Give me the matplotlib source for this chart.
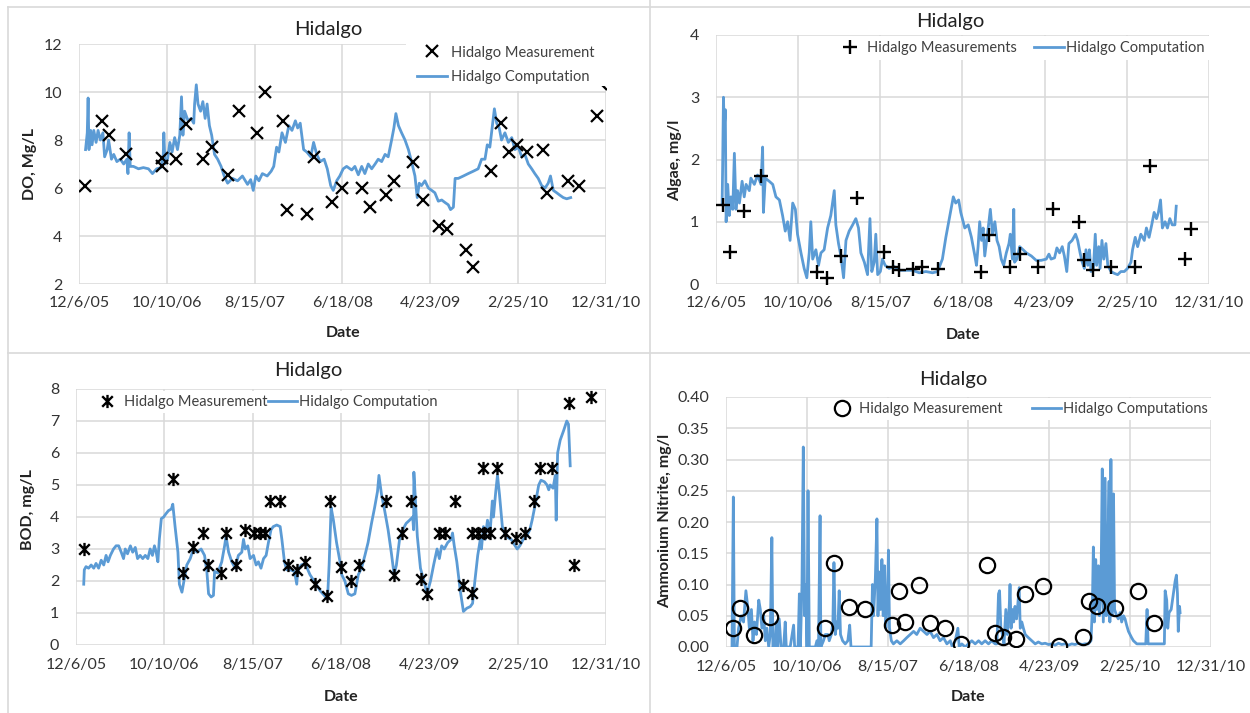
import datetime as dt

import matplotlib
matplotlib.use("Agg")
import matplotlib.pyplot as plt
import matplotlib.dates as mdates
import numpy as np
from matplotlib.lines import Line2D
from matplotlib.patches import Rectangle
from matplotlib.path import Path
from matplotlib.ticker import FormatStrFormatter

plt.rcParams["font.family"] = ["Lato", "DejaVu Sans"]

# ---------------------------------------------------------------- data
# x values are days counted from 6 Dec 2005
START = dt.date(2005, 12, 6)
tick_dates = [dt.date(2005, 12, 6), dt.date(2006, 10, 10), dt.date(2007, 8, 15),
              dt.date(2008, 6, 18), dt.date(2009, 4, 23), dt.date(2010, 2, 25),
              dt.date(2010, 12, 31)]
tick_labels = ["12/6/05", "10/10/06", "8/15/07", "6/18/08", "4/23/09", "2/25/10", "12/31/10"]

# Dissolved oxygen
do_meas_day = [21, 81, 104, 166, 292, 292, 340, 375, 437, 466, 525, 561, 624, 652, 715, 730, 800,
               827, 887, 925, 993, 1022, 1078, 1106, 1174, 1209, 1266, 1294, 1359, 1383, 1447,
               1482, 1511, 1537, 1572, 1631, 1645, 1719, 1756, 1818, 1833]
do_meas_val = [6.1, 8.8, 8.2, 7.4, 7.25, 6.9, 7.2, 8.65, 7.2, 7.7, 6.55, 9.2, 8.3, 10.0, 8.8, 5.1,
               4.9, 7.3, 5.4, 6.0, 6.0, 5.2, 5.7, 6.3, 7.1, 5.5, 4.4, 4.3, 3.4, 2.7, 6.7, 8.7, 7.5,
               7.8, 7.5, 7.6, 5.8, 6.3, 6.1, 9.0, 10.35]
do_comp_day = [23, 29, 32, 35, 41, 46, 52, 60, 67, 75, 84, 90, 99, 104, 114, 122, 133, 145, 157, 168,
               172, 176, 180, 191, 209, 226, 244, 258, 273, 288, 296, 298, 302, 311, 319, 327, 336,
               346, 354, 360, 365, 371, 383, 394, 403, 406, 412, 418, 427, 435, 443, 450, 458, 466,
               476, 487, 499, 510, 522, 539, 557, 574, 592, 603, 612, 621, 632, 644, 661, 675, 684,
               694, 702, 713, 725, 737, 748, 760, 768, 777, 789, 800, 814, 824, 835, 847, 861, 872,
               884, 893, 905, 916,
               928, 940, 958, 969, 981, 993, 1004, 1016, 1028, 1040, 1051, 1063, 1075, 1086, 1098,
               1106, 1113, 1122, 1133, 1145, 1157, 1168, 1180, 1188, 1195, 1203, 1215, 1227, 1239,
               1250, 1262, 1274, 1285, 1297, 1305, 1315, 1321, 1332, 1350, 1367, 1385, 1402, 1414,
               1426, 1434, 1443, 1452, 1459, 1467, 1476, 1484, 1496, 1508, 1520, 1531, 1543, 1555,
               1566, 1578, 1590, 1601, 1613, 1625, 1637, 1648, 1656, 1666, 1678, 1689, 1701, 1713,
               1727]
do_comp_val = [7.6, 8.3, 9.75, 7.6, 8.4, 7.8, 8.4, 7.9, 8.4, 8.0, 8.3, 7.3, 7.6, 8.0, 7.2, 7.4, 7.1,
               7.2, 7.0, 7.2, 6.6, 8.3, 6.9, 6.9, 6.8, 6.85, 6.8, 6.6, 6.8, 6.85, 7.4, 8.3, 7.0, 7.2,
               7.9, 7.5, 8.1, 7.6, 8.2, 9.8, 8.2, 9.2, 8.8, 8.9, 8.7, 9.5, 10.3, 9.5, 9.2, 9.6, 8.9,
               9.5, 8.6, 8.2, 7.4, 7.2, 6.9, 6.5, 6.2, 6.4, 6.3, 6.5, 6.15, 6.35, 5.9, 6.5, 6.3, 6.6,
               6.5, 6.7, 6.9, 7.7, 7.5, 8.3, 7.9, 8.6, 8.4, 8.8, 8.5, 8.7, 7.6, 7.5, 7.3, 7.9, 7.4,
               7.1, 7.2, 6.8, 6.1, 5.9, 6.3, 6.5,
               6.8, 6.9, 6.75, 6.9, 6.55, 6.9, 6.6, 7.0, 6.8, 7.0, 7.2, 7.1, 7.4, 7.3, 8.0, 8.5, 9.1,
               8.6, 8.3, 8.0, 7.6, 7.1, 6.5, 5.6, 6.2, 6.1, 6.3, 6.0, 5.9, 5.8, 5.45, 5.5, 5.4, 5.3,
               5.1, 5.2, 6.4, 6.4, 6.5, 6.6, 6.7, 6.8, 7.2, 7.2, 7.8, 7.7, 8.6, 9.3, 8.7, 8.5, 8.0,
               8.3, 7.9, 8.1, 7.6, 7.7, 7.3, 7.4, 7.0, 6.8, 6.6, 6.4, 6.1, 6.0, 6.2, 6.5, 5.9, 5.8,
               5.7, 5.6, 5.55, 5.6]

# Algae
alg_meas_day = [25, 53, 104, 169, 379, 415, 469, 529, 629, 663, 688, 738, 775, 834, 996, 1025, 1105,
                1140, 1209, 1267, 1362, 1383, 1414, 1483, 1573, 1630, 1760, 1782]
alg_meas_val = [1.27, 0.51, 1.17, 1.74, 0.19, 0.09, 0.45, 1.38, 0.51, 0.27, 0.23, 0.24, 0.27, 0.24,
                0.19, 0.79, 0.28, 0.48, 0.28, 1.2, 0.99, 0.39, 0.22, 0.28, 0.28, 1.9, 0.40, 0.89]
alg_comp_day = [23, 25, 28, 31, 35, 38, 44, 50, 56, 63, 69, 75, 81, 88, 98, 106, 113, 125, 131, 144,
                156, 169, 175, 178, 185, 200, 213, 225, 238, 250, 260, 269, 278, 288, 298, 306, 319,
                331, 341, 350, 356, 363, 375, 385, 394, 406, 419, 431, 444, 450, 460, 469, 479, 488,
                500, 513, 525, 535, 544, 557, 569, 578, 585, 594, 600, 607, 617, 625, 635, 650, 669,
                688, 713, 738, 763, 788, 813, 832, 850, 863, 878, 891, 900, 911, 919,
                934, 947, 959, 972, 978, 984, 990, 997, 1003, 1009, 1022, 1030, 1038, 1047, 1055,
                1063, 1071, 1080, 1090, 1100, 1105, 1113, 1118, 1121, 1130, 1140, 1153, 1165, 1184,
                1202, 1221, 1240, 1250, 1258, 1271, 1280, 1290, 1300, 1308, 1317, 1325, 1337, 1350,
                1358, 1367, 1375, 1383, 1389, 1396, 1402, 1408, 1417, 1424, 1429, 1437, 1442, 1449,
                1456, 1464, 1471, 1483, 1496, 1508, 1520, 1533, 1545, 1558, 1564, 1574, 1583, 1595,
                1608, 1616, 1626, 1636, 1645, 1654, 1661, 1669, 1676, 1686, 1695, 1704, 1713, 1723,
                1728]
alg_comp_val = [1.3, 1.9, 3.0, 2.5, 2.8, 1.0, 1.6, 1.1, 1.4, 1.2, 2.1, 1.2, 1.5, 1.3, 1.65, 1.4, 1.6,
                1.5, 1.7, 1.6, 1.75, 1.6, 2.2, 1.15, 1.7, 1.65, 1.6, 1.4, 1.35, 1.1, 0.85, 1.0, 0.7,
                1.3, 1.2, 0.8, 0.5, 0.25, 0.1, 0.5, 1.0, 0.4, 0.55, 0.3, 0.5, 0.55, 0.9, 1.1, 1.5,
                0.95, 0.65, 0.45, 0.1, 0.7, 0.85, 0.95, 1.05, 0.9, 0.5, 0.35, 0.15, 1.05, 0.2, 0.35,
                0.8, 0.15, 0.2, 0.4, 0.3, 0.25, 0.28, 0.22, 0.22, 0.22, 0.18, 0.2, 0.18, 0.2, 0.4,
                0.75, 1.1, 1.4, 1.3, 1.35, 1.15,
                0.9, 0.95, 0.75, 0.45, 0.3, 0.6, 1.0, 0.7, 0.9, 0.45, 0.9, 1.2, 0.8, 1.0, 0.7, 0.6,
                0.4, 0.3, 0.5, 0.65, 0.8, 0.4, 1.2, 0.35, 0.4, 0.6, 0.55, 0.5, 0.45, 0.38, 0.38, 0.4,
                0.48, 0.4, 0.42, 0.58, 0.5, 0.6, 0.45, 0.2, 0.65, 0.7, 0.8, 0.7, 0.5, 0.35, 0.25,
                0.55, 0.3, 0.55, 0.2, 0.25, 0.8, 0.3, 0.6, 0.25, 0.7, 0.4, 0.65, 0.3, 0.2, 0.17, 0.15,
                0.2, 0.2, 0.25, 0.35, 0.55, 0.75, 0.6, 0.8, 0.7, 0.9, 0.75, 0.95, 1.15, 1.05, 1.15,
                1.35, 0.9, 1.0, 0.9, 1.05, 0.95, 0.95, 1.25]

# Biochemical oxygen demand
bod_meas_day = [27, 338, 373, 407, 445, 460, 506, 524, 559, 591, 620, 643, 660, 678, 713, 739, 771,
                800, 835, 876, 887, 925, 960, 989, 1082, 1111, 1140, 1171, 1206, 1226, 1269, 1289,
                1324, 1353, 1382, 1382, 1403, 1424, 1422, 1445, 1471, 1499, 1535, 1567, 1599, 1622,
                1662, 1722, 1740, 1799]
bod_meas_val = [3.0, 5.2, 2.25, 3.05, 3.5, 2.5, 2.25, 3.5, 2.5, 3.6, 3.5, 3.5, 3.5, 4.5, 4.5, 2.5,
                2.33, 2.6, 1.92, 1.53, 4.5, 2.45, 2.0, 2.5, 4.5, 2.18, 3.5, 4.5, 2.05, 1.6, 3.5, 3.5,
                4.5, 1.86, 1.63, 3.5, 3.5, 3.5, 5.53, 3.5, 5.53, 3.5, 3.33, 3.5, 4.5, 5.53, 5.53,
                7.55, 2.51, 7.76]
bod_comp_day = [27, 29, 35, 44, 53, 62, 70, 79, 88, 97, 105, 112, 120, 131, 140, 149, 158, 166, 172,
                180, 190, 198, 207, 215, 224, 233, 242, 251, 259, 267, 274, 280, 286, 291, 298, 306,
                314, 323, 333, 338, 346, 356, 361, 370, 379, 387, 399, 410, 422, 437, 449, 457, 463,
                472, 480, 484, 495, 509, 519, 524, 533, 544, 556, 567, 579, 585, 591, 600, 608, 620,
                629, 637, 646, 655, 664, 672, 681, 689, 701, 713, 719, 728, 736, 748, 763, 771, 774,
                786, 800, 817, 835, 852, 872, 879, 884, 891, 899, 910, 922,
                928, 939, 951, 962, 974, 986, 997, 1009, 1020, 1032, 1043, 1053, 1058, 1067, 1078,
                1090, 1101, 1111, 1119, 1130, 1141, 1153, 1165, 1176, 1179, 1180, 1185, 1192, 1203,
                1215, 1226, 1238, 1249, 1261, 1269, 1277, 1286, 1298, 1310, 1315, 1321, 1330, 1342,
                1353, 1365, 1377, 1385, 1393, 1403, 1412, 1416, 1423, 1429, 1437, 1446, 1454, 1458,
                1466, 1472, 1479, 1489, 1497, 1509, 1520, 1530, 1541, 1550, 1562, 1573, 1585, 1593,
                1604, 1616, 1624, 1636, 1645, 1651, 1656, 1666, 1674, 1677, 1682, 1691, 1703, 1714,
                1720, 1726]
bod_comp_val = [1.9, 2.35, 2.45, 2.4, 2.5, 2.4, 2.55, 2.4, 2.65, 2.5, 2.8, 2.6, 2.8, 3.0, 3.1, 3.1,
                2.9, 2.7, 3.0, 2.85, 3.1, 2.9, 3.05, 2.7, 2.8, 2.7, 2.8, 2.7, 3.0, 2.8, 3.1, 2.9, 2.6,
                3.3, 3.95, 4.0, 4.1, 4.2, 4.25, 4.4, 3.7, 2.9, 1.9, 1.65, 2.1, 2.5, 2.7, 3.0, 2.9,
                3.0, 2.8, 2.3, 1.6, 1.5, 1.55, 2.3, 2.25, 2.6, 3.1, 3.4, 2.9, 2.6, 2.4, 2.8, 2.9, 3.3,
                3.0, 3.1, 2.7, 2.8, 2.5, 2.6, 2.4, 2.7, 2.8, 3.2, 3.6, 3.7, 3.75, 3.7, 3.3, 2.6, 2.35,
                2.35, 2.3, 1.9, 2.3, 2.5, 2.55, 2.2, 1.95, 1.7, 1.5, 1.55, 2.5, 4.3, 3.9, 3.2, 2.6,
                2.2, 2.0, 1.6, 1.55, 1.6, 2.2, 2.4, 2.8, 3.2, 3.8, 4.3, 4.8, 5.3, 4.7, 4.2, 3.6, 2.9,
                2.2, 2.5, 3.3, 3.6, 3.8, 3.9, 4.0, 3.6, 5.4, 4.6, 3.4, 2.4, 2.0, 1.6, 2.0, 2.5, 3.0,
                2.7, 3.1, 3.0, 3.2, 3.3, 3.5, 3.1, 2.6, 1.7, 1.05, 1.15, 1.2, 1.3, 2.0, 2.8, 3.3, 3.0,
                3.7, 3.3, 3.9, 3.5, 4.5, 4.0, 4.8, 5.3, 4.7, 3.7, 3.5, 3.35, 3.3, 3.15, 3.0, 3.1, 3.3,
                3.4, 3.6, 3.9, 4.4, 5.0, 5.15, 5.1, 5.0, 4.85, 5.0, 4.9, 5.3, 3.9, 6.0, 6.4, 6.7, 7.0,
                6.9, 5.6]

# Ammonium nitrite
nh_meas_day = [27, 55, 106, 169, 379, 414, 470, 531, 633, 659, 684, 735, 777, 834, 896, 995, 1025,
               1059, 1105, 1142, 1209, 1271, 1364, 1386, 1417, 1485, 1574, 1634]
nh_meas_val = [0.030, 0.063, 0.020, 0.048, 0.030, 0.135, 0.064, 0.061, 0.036, 0.089, 0.040, 0.100,
               0.038, 0.030, 0.005, 0.132, 0.023, 0.016, 0.013, 0.085, 0.097, 0.002, 0.016, 0.074,
               0.065, 0.062, 0.090, 0.039]
nh_comp_day = [23, 28, 32, 42, 48, 58, 67, 76, 84, 89, 97, 103, 109, 116, 125, 131, 137, 144, 150, 156,
               163, 169, 175, 179, 186, 192, 197, 203, 210, 220, 226, 230, 245, 258, 262, 275, 280,
               284, 290, 295, 300, 305, 309, 313, 318, 328, 341, 347, 353, 359, 362, 372, 379, 389,
               394, 402, 408, 412, 417, 423, 427, 432, 437, 445, 455, 465, 472, 477, 483, 493, 506,
               519, 531, 544, 554, 559, 563, 570, 576, 580, 585, 590, 595, 600, 605, 610, 617, 620,
               624, 631, 639, 652, 665, 678, 690, 703, 716, 728, 741, 754, 767, 779, 792, 805, 817,
               830, 843, 856, 864, 875, 885, 890, 900, 913,
               925, 938, 951, 964, 976, 989, 1002, 1014, 1027, 1034, 1040, 1044, 1049, 1055, 1061,
               1068, 1074, 1081, 1084, 1088, 1093, 1098, 1103, 1109, 1114, 1119, 1123, 1129, 1135,
               1142, 1154, 1167, 1180, 1192, 1205, 1218, 1231, 1243, 1256, 1269, 1281, 1294, 1307,
               1320, 1332, 1345, 1358, 1370, 1383, 1393, 1398, 1402, 1406, 1411, 1415, 1421, 1425,
               1431, 1436, 1440, 1447, 1451, 1457, 1462, 1465, 1469, 1473, 1479, 1483, 1491, 1497,
               1504, 1510, 1517, 1523, 1529, 1536, 1542, 1548, 1555, 1568, 1580, 1593, 1602, 1607,
               1611, 1625, 1637, 1650, 1663, 1673, 1676, 1682, 1686, 1691, 1699, 1704, 1709, 1714,
               1719, 1723, 1726, 1731, 1733]
nh_comp_val = [0.0, 0.24, 0.0, 0.0, 0.03, 0.05, 0.04, 0.09, 0.06, 0.03, 0.06, 0.01, 0.04, 0.02, 0.075,
               0.06, 0.03, 0.05, 0.01, 0.03, 0.0, 0.02, 0.175, 0.0, 0.0, 0.04, 0.0, 0.045, 0.0, 0.0,
               0.04, 0.0, 0.0, 0.035, 0.0, 0.0, 0.085, 0.0, 0.1, 0.32, 0.05, 0.1, 0.0, 0.25, 0.0, 0.0,
               0.0, 0.01, 0.0, 0.21, 0.0, 0.01, 0.02, 0.02, 0.01, 0.02, 0.04, 0.135, 0.02, 0.04,
               0.03, 0.09, 0.02, 0.01, 0.005, 0.01, 0.035, 0.0, 0.0, 0.0, 0.0, 0.0, 0.0, 0.0, 0.0,
               0.1, 0.05, 0.11, 0.205, 0.05, 0.12, 0.06, 0.14, 0.05, 0.13, 0.03, 0.09, 0.155, 0.03,
               0.01, 0.005, 0.01, 0.005, 0.01, 0.015, 0.02, 0.025, 0.02, 0.03, 0.025, 0.02, 0.025,
               0.015, 0.02, 0.01, 0.015, 0.005, 0.01, 0.0, 0.01, 0.03, 0.0, 0.005, 0.0,
               0.005, 0.01, 0.005, 0.01, 0.005, 0.01, 0.005, 0.01, 0.005, 0.005, 0.085, 0.09, 0.03,
               0.02, 0.005, 0.06, 0.02, 0.065, 0.1, 0.03, 0.06, 0.04, 0.065, 0.045, 0.07, 0.095,
               0.03, 0.04, 0.03, 0.02, 0.015, 0.01, 0.005, 0.008, 0.005, 0.006, 0.004, 0.005, 0.003,
               0.006, 0.004, 0.005, 0.003, 0.005, 0.004, 0.006, 0.004, 0.005, 0.005, 0.01, 0.06,
               0.16, 0.04, 0.14, 0.06, 0.13, 0.05, 0.09, 0.285, 0.04, 0.27, 0.05, 0.15, 0.265, 0.04,
               0.3, 0.05, 0.245, 0.06, 0.05, 0.045, 0.055, 0.04, 0.05, 0.045, 0.035, 0.025, 0.02,
               0.015, 0.01, 0.005, 0.005, 0.005, 0.005, 0.06, 0.005, 0.005, 0.005, 0.005, 0.005,
               0.005, 0.09, 0.075, 0.03, 0.055, 0.06, 0.075, 0.09, 0.105, 0.115, 0.085, 0.025, 0.065,
               0.055]

# ---------------------------------------------------------------- styling
W, H = 1250, 713
BLUE = "#5b9bd5"
GRID = "#d9d9d9"
TXT = "#333333"
t0 = mdates.date2num(START)
tick_nums = [mdates.date2num(d) for d in tick_dates]

star = Path([(-1, -1), (1, 1), (-1, 1), (1, -1), (0, -1.25), (0, 1.25)],
            [Path.MOVETO, Path.LINETO, Path.MOVETO, Path.LINETO, Path.MOVETO, Path.LINETO])

fig = plt.figure(figsize=(W / 100, H / 100), dpi=100)
fig.patch.set_facecolor("white")


def px_axes(x0, x1, ytop, ybot):
    return fig.add_axes([x0 / W, 1 - ybot / H, (x1 - x0) / W, (ybot - ytop) / H])


def style(ax, yticks, fmt):
    ax.set_xlim(tick_nums[0], tick_nums[-1])
    ax.set_xticks(tick_nums)
    ax.set_xticklabels(tick_labels)
    ax.set_ylim(yticks[0], yticks[-1])
    ax.set_yticks(yticks)
    ax.yaxis.set_major_formatter(FormatStrFormatter(fmt))
    ax.grid(True, color=GRID, lw=1.1)
    ax.set_axisbelow(True)
    for s in ax.spines.values():
        s.set_visible(False)
    ax.tick_params(length=0, labelsize=11.5, colors=TXT)
    ax.tick_params(axis="y", pad=12)
    ax.tick_params(axis="x", pad=9)


def days(d):
    return t0 + np.asarray(d, dtype=float)


def text_px(x, y, s, **kw):
    fig.text(x / W, 1 - y / H, s, ha="center", va="center", color="#222222", **kw)


def panel_text(title_xy, ylab, ylab_xy, xlab_xy):
    text_px(*title_xy, "Hidalgo", fontsize=14.5)
    text_px(*ylab_xy, ylab, fontsize=11.5, fontweight="bold", rotation=90)
    text_px(*xlab_xy, "Date", fontsize=11.5, fontweight="bold")


def legend(ax, handles, labels, center_px, ncol, **kw):
    lg = ax.legend(handles, labels, loc="center",
                   bbox_to_anchor=(center_px[0] / W, 1 - center_px[1] / H),
                   bbox_transform=fig.transFigure, ncol=ncol, frameon=True,
                   fancybox=False, framealpha=1, prop={"size": 10.5}, **kw)
    lg.get_frame().set_edgecolor("none")
    lg.get_frame().set_facecolor("white")
    for t in lg.get_texts():
        t.set_color("#404040")
    return lg


# --- DO
ax1 = px_axes(79, 606, 44, 284)
style(ax1, np.arange(2, 13, 2), "%d")
l1, = ax1.plot(days(do_comp_day), do_comp_val, color=BLUE, lw=2.0)
m1, = ax1.plot(days(do_meas_day), do_meas_val, ls="none", marker="x", ms=8.5, mew=1.6, color="black")
# white legend area of the DO chart, reaching the right edge of the plot
ax1.add_patch(Rectangle((406 / W, 1 - 86 / H), 204 / W, 44 / H, transform=fig.transFigure,
                        facecolor="white", edgecolor="none", zorder=4, clip_on=False))
legend(ax1, [m1, l1], ["Hidalgo Measurement", "Hidalgo Computation"], (506, 65), 1,
       handlelength=2.0, handletextpad=0.3, labelspacing=0.75, borderpad=0.45)
panel_text((328, 30), "DO, Mg/L", (30, 164), (343, 333))

# --- Algae
ax2 = px_axes(716, 1209, 35, 284)
style(ax2, np.arange(0, 5, 1), "%d")
l2, = ax2.plot(days(alg_comp_day), alg_comp_val, color=BLUE, lw=2.0)
m2, = ax2.plot(days(alg_meas_day), alg_meas_val, ls="none", marker="+", ms=10, mew=1.7, color="black")
legend(ax2, [m2, l2], ["Hidalgo Measurements", "Hidalgo Computation"], (1020, 48), 2,
       handlelength=2.0, handletextpad=0.15, columnspacing=1.2, borderpad=0.35)
panel_text((950, 22), "Algae, mg/l", (675, 160), (963, 335))

# --- BOD
ax3 = px_axes(76, 606, 389, 645)
style(ax3, np.arange(0, 9, 1), "%d")
l3, = ax3.plot(days(bod_comp_day), bod_comp_val, color=BLUE, lw=2.0)
m3, = ax3.plot(days(bod_meas_day), bod_meas_val, ls="none", marker=star, ms=9.5, mew=1.7, color="black")
legend(ax3, [m3, l3], ["Hidalgo Measurement", "Hidalgo Computation"], (265, 402), 2,
       handlelength=2.0, handletextpad=0.15, columnspacing=0.0, borderpad=0.3)
panel_text((308, 371), "BOD, mg/L", (28, 510), (341, 697))

# --- Ammonium nitrite
ax4 = px_axes(726, 1211, 397, 647)
style(ax4, np.round(np.arange(0, 0.41, 0.05), 2), "%.2f")
l4, = ax4.plot(days(nh_comp_day), nh_comp_val, color=BLUE, lw=2.0)
m4, = ax4.plot(days(nh_meas_day), nh_meas_val, ls="none", marker="o", ms=11, mew=1.6,
               mfc="none", mec="black")
legend(ax4, [m4, l4], ["Hidalgo Measurement", "Hidalgo Computations"], (1018, 409), 2,
       handlelength=2.0, handletextpad=0.15, columnspacing=2.0, borderpad=0.3)
panel_text((953, 380), "Ammonium Nitrite, mg/l", (665, 521), (968, 697))

# --- panel borders
for (xa, ya), (xb, yb) in [((8, 7), (W, 7)), ((8, 7), (8, H)), ((650, 0), (650, H)),
                           ((8, 353), (W, 353))]:
    fig.add_artist(Line2D([xa / W, xb / W], [1 - ya / H, 1 - yb / H],
                          transform=fig.transFigure, color=GRID, lw=1.2))

fig.savefig("out.png", dpi=100, facecolor="white")
